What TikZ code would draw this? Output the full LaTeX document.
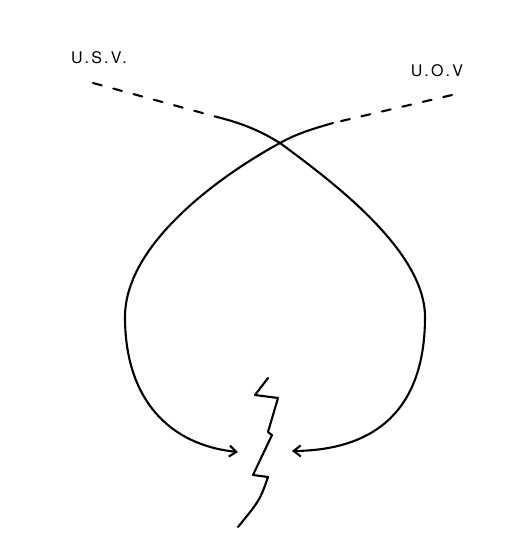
\documentclass[tikz,border=0pt]{standalone}
\usepackage{fontspec}
\setsansfont{TeX Gyre Heros}[LetterSpace=14]
\usepackage{tikz}
\usetikzlibrary{arrows.meta,positioning}

\tikzset{
  pen/.style={line width=2.1pt, line cap=round, line join=round},
  trail/.style={pen, dash pattern=on 9pt off 12pt},
  tag/.style={font=\sffamily\fontsize{16}{16}\selectfont, inner sep=0pt}
}

\begin{document}
\begin{tikzpicture}[x=1pt, y=-1pt, >={Straight Barb[length=7pt, width=11pt]}]
    \useasboundingbox (0,0) rectangle (509,541);

    % labels
    \node[tag] (usv) at (99,58) {U.S.V.};
    \node[tag] (uov) at (437,71) {U.O.V};

    % points of the two paths
    \coordinate (lstart) at (93,83);
    \coordinate (lsolid) at (217,117);
    \coordinate (rstart) at (452,95);
    \coordinate (rsolid) at (333,123);
    \coordinate (cross) at (280,143);
    \coordinate (ltip) at (238,452);
    \coordinate (rtip) at (292,451);

    % dashed approaches
    \draw[trail] (lstart) -- (lsolid);
    \draw[trail] (rstart) -- (rsolid);

    % path from U.S.V. round the right lobe
    \draw[pen, ->] (lsolid) .. controls (245,124) and (262,132) .. (cross)
        .. controls (330,180) and (425,250) .. (425,317)
        .. controls (425,400) and (385,450) .. (rtip);

    % path from U.O.V round the left lobe
    \draw[pen, ->] (rsolid) .. controls (312,129) and (296,134) .. (cross)
        .. controls (230,170) and (125,240) .. (125,317)
        .. controls (125,400) and (170,445) .. (ltip);

    % lightning bolt
    \draw[pen] (268,378) -- (255,395) -- (278,398) -- (268,432) -- (272,435)
        -- (253,475) -- (268,477) .. controls (260,500) .. (238,527);
\end{tikzpicture}
\end{document}
